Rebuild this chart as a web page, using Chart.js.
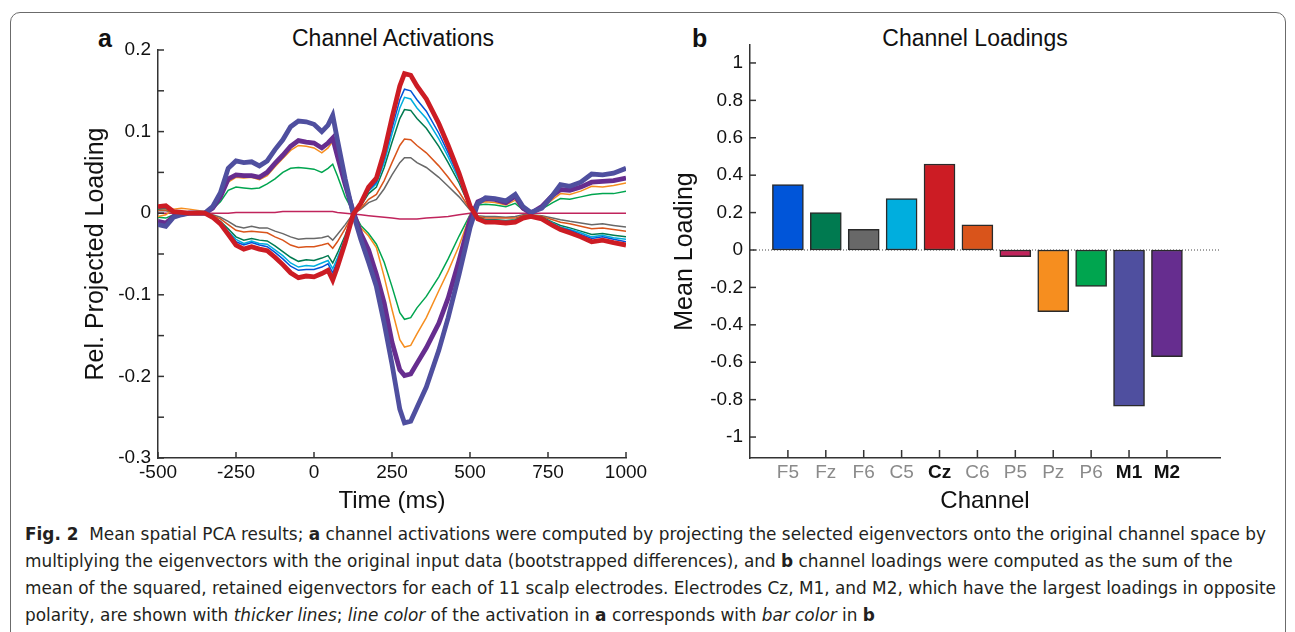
<!DOCTYPE html>
<html>
<head>
<meta charset="utf-8">
<script src="https://cdn.jsdelivr.net/npm/chart.js@4.4.1/dist/chart.umd.min.js"></script>
<style>
  html, body { margin: 0; padding: 0; background: #fff; }
  body { width: 1295px; height: 632px; position: relative; overflow: hidden; font-family: 'Liberation Sans', Arial, sans-serif; }
  #frame { position: absolute; left: 10px; top: 12px; width: 1274px; height: 700px; border: 1px solid #6b6b6b; border-radius: 10px; }
  .lbl { position: absolute; color: #111; white-space: nowrap; }
  .ttl { font-size: 23px; line-height: 28px; text-align: center; width: 400px; }
  .pan { font-size: 25px; font-weight: bold; line-height: 28px; }
  canvas { position: absolute; }
  #cap { position: absolute; left: 25px; top: 521px; font-family: 'Liberation Sans Narrow', 'DejaVu Sans Condensed', 'Liberation Sans', sans-serif; font-size: 17px; color: #231f20; }
  #cap div { white-space: nowrap; height: 27px; line-height: 27px; transform-origin: 0 50%; }
  #cap span.l { display: inline-block; }
</style>
</head>
<body>
<div id="frame"></div>

<div class="lbl pan" style="left:98px; top:24px;">a</div>
<div class="lbl ttl" style="left:193px; top:24px;">Channel Activations</div>
<div class="lbl pan" style="left:692px; top:24px;">b</div>
<div class="lbl ttl" style="left:775px; top:24px;">Channel Loadings</div>

<canvas id="actChart" width="700" height="520" style="left:0; top:0;"></canvas>
<canvas id="loadChart" width="600" height="520" style="left:640px; top:0;"></canvas>

<div id="cap">
  <div><span class="l"><b>Fig. 2</b>&nbsp; Mean spatial PCA results; <b>a</b> channel activations were computed by projecting the selected eigenvectors onto the original channel space by</span></div>
  <div><span class="l">multiplying the eigenvectors with the original input data (bootstrapped differences), and <b>b</b> channel loadings were computed as the sum of the</span></div>
  <div><span class="l">mean of the squared, retained eigenvectors for each of 11 scalp electrodes. Electrodes Cz, M1, and M2, which have the largest loadings in opposite</span></div>
  <div><span class="l">polarity, are shown with <i>thicker lines</i>; <i>line color</i> of the activation in <b>a</b> corresponds with <i>bar color</i> in <b>b</b></span></div>
</div>

<script>
// ---- data ----
const channels = ['F5', 'Fz', 'F6', 'C5', 'Cz', 'C6', 'P5', 'Pz', 'P6', 'M1', 'M2'];
const loadings = [0.35, 0.20, 0.11, 0.275, 0.46, 0.135, -0.035, -0.33, -0.195, -0.835, -0.57];
const chanColors = ['#0055d9', '#007a50', '#686868', '#00aede', '#cc1c24', '#d9541b', '#c0245c', '#f68e1f', '#00a54f', '#4f4f9f', '#662d8f'];
const boldChannels = ['Cz', 'M1', 'M2'];

// time points (ms) of the activation traces
const times = [-500, -475, -450, -425, -400, -350, -325, -300, -275, -250,
  -225, -200, -175, -150, -125, -100, -75, -50, -25, 0,
  25, 45, 60, 75, 100, 125, 150, 175, 200, 225,
  250, 275, 290, 310, 330, 360, 400, 430, 465, 500,
  525, 550, 580, 615, 645, 670, 695, 730, 765, 790,
  820, 855, 890, 925, 960, 1000];

const actCz = [0.008, 0.009, 0.002, 0.001, 0.000, 0.000, -0.005, -0.013, -0.026, -0.039,
  -0.044, -0.041, -0.044, -0.046, -0.054, -0.063, -0.073, -0.079, -0.077, -0.078,
  -0.074, -0.070, -0.082, -0.066, -0.036, -0.002, 0.012, 0.032, 0.043, 0.075,
  0.117, 0.156, 0.171, 0.169, 0.156, 0.140, 0.110, 0.083, 0.049, 0.009,
  -0.007, -0.011, -0.011, -0.012, -0.011, -0.006, -0.004, -0.007, -0.015, -0.020,
  -0.024, -0.029, -0.035, -0.033, -0.036, -0.039];
const actF5 = [0.007, 0.008, 0.002, 0.001, 0.000, 0.000, -0.004, -0.012, -0.023, -0.035,
  -0.039, -0.036, -0.039, -0.041, -0.048, -0.056, -0.065, -0.070, -0.069, -0.069,
  -0.066, -0.062, -0.073, -0.059, -0.032, -0.002, 0.011, 0.028, 0.038, 0.067,
  0.104, 0.139, 0.152, 0.150, 0.139, 0.125, 0.098, 0.074, 0.044, 0.008,
  -0.006, -0.010, -0.010, -0.011, -0.010, -0.005, -0.004, -0.006, -0.013, -0.018,
  -0.021, -0.026, -0.031, -0.029, -0.032, -0.035];
const actC5 = [0.006, 0.007, 0.002, 0.001, 0.000, 0.000, -0.004, -0.011, -0.022, -0.032,
  -0.037, -0.034, -0.037, -0.038, -0.045, -0.052, -0.061, -0.066, -0.064, -0.065,
  -0.061, -0.058, -0.068, -0.055, -0.030, -0.002, 0.010, 0.027, 0.036, 0.062,
  0.097, 0.129, 0.142, 0.140, 0.129, 0.116, 0.091, 0.069, 0.041, 0.007,
  -0.006, -0.009, -0.009, -0.010, -0.009, -0.005, -0.003, -0.006, -0.012, -0.017,
  -0.020, -0.024, -0.029, -0.027, -0.030, -0.032];
const actFz = [0.005, 0.006, 0.001, 0.001, 0.000, 0.000, -0.004, -0.010, -0.019, -0.029,
  -0.033, -0.031, -0.033, -0.034, -0.040, -0.047, -0.054, -0.059, -0.057, -0.058,
  -0.055, -0.052, -0.061, -0.049, -0.027, -0.001, 0.009, 0.024, 0.032, 0.056,
  0.087, 0.116, 0.127, 0.126, 0.116, 0.104, 0.082, 0.062, 0.037, 0.007,
  -0.005, -0.008, -0.008, -0.009, -0.008, -0.004, -0.003, -0.005, -0.011, -0.015,
  -0.018, -0.022, -0.026, -0.025, -0.027, -0.029];
const actC6 = [0.004, 0.004, 0.001, 0.000, 0.000, 0.000, -0.003, -0.007, -0.014, -0.021,
  -0.023, -0.022, -0.023, -0.024, -0.029, -0.033, -0.039, -0.042, -0.041, -0.041,
  -0.039, -0.037, -0.043, -0.035, -0.019, -0.001, 0.006, 0.017, 0.023, 0.040,
  0.062, 0.083, 0.091, 0.090, 0.083, 0.074, 0.058, 0.044, 0.026, 0.005,
  -0.004, -0.006, -0.006, -0.006, -0.006, -0.003, -0.002, -0.004, -0.008, -0.011,
  -0.013, -0.016, -0.019, -0.018, -0.020, -0.022];
const actF6 = [0.003, 0.003, 0.001, 0.000, 0.000, 0.000, -0.002, -0.005, -0.010, -0.016,
  -0.018, -0.016, -0.018, -0.018, -0.022, -0.025, -0.029, -0.032, -0.031, -0.031,
  -0.030, -0.028, -0.033, -0.026, -0.014, -0.001, 0.005, 0.013, 0.017, 0.030,
  0.047, 0.062, 0.068, 0.068, 0.062, 0.056, 0.044, 0.033, 0.020, 0.004,
  -0.003, -0.004, -0.004, -0.005, -0.004, -0.002, -0.002, -0.003, -0.006, -0.008,
  -0.010, -0.012, -0.014, -0.013, -0.015, -0.017];
const actP5 = [0.000, 0.000, 0.000, 0.000, 0.000, 0.000, 0.000, 0.000, 0.000, 0.001,
  0.001, 0.001, 0.001, 0.001, 0.001, 0.002, 0.002, 0.002, 0.002, 0.002,
  0.002, 0.002, 0.002, 0.001, 0.000, -0.001, -0.002, -0.003, -0.004, -0.005,
  -0.006, -0.007, -0.007, -0.007, -0.007, -0.006, -0.005, -0.004, -0.002, 0.000,
  0.000, 0.000, 0.000, 0.000, 0.000, 0.000, 0.000, 0.000, 0.000, 0.000,
  0.000, 0.000, 0.000, 0.000, 0.000, 0.000];
const actPz = [-0.004, -0.002, 0.005, 0.006, 0.005, 0.002, 0.005, 0.018, 0.038, 0.044,
  0.043, 0.044, 0.041, 0.046, 0.057, 0.067, 0.077, 0.083, 0.082, 0.080,
  0.074, 0.080, 0.088, 0.067, 0.033, 0.002, -0.018, -0.028, -0.042, -0.078,
  -0.118, -0.155, -0.164, -0.162, -0.148, -0.128, -0.095, -0.071, -0.040, -0.003,
  0.012, 0.014, 0.013, 0.010, 0.016, 0.004, 0.000, 0.006, 0.017, 0.024,
  0.023, 0.027, 0.033, 0.032, 0.034, 0.037];
const actP6 = [-0.005, -0.006, -0.002, 0.000, 0.000, 0.000, 0.005, 0.014, 0.028, 0.032,
  0.031, 0.030, 0.031, 0.036, 0.042, 0.050, 0.055, 0.056, 0.055, 0.054,
  0.050, 0.055, 0.060, 0.046, 0.020, 0.002, -0.015, -0.025, -0.038, -0.060,
  -0.090, -0.122, -0.130, -0.128, -0.116, -0.102, -0.078, -0.056, -0.028, -0.002,
  0.010, 0.011, 0.010, 0.008, 0.012, 0.004, 0.001, 0.005, 0.013, 0.018,
  0.017, 0.020, 0.023, 0.024, 0.024, 0.027];
const actM1 = [-0.014, -0.016, -0.005, -0.002, 0.000, 0.000, 0.008, 0.025, 0.055, 0.064,
  0.062, 0.063, 0.058, 0.064, 0.078, 0.090, 0.106, 0.113, 0.112, 0.109,
  0.100, 0.108, 0.120, 0.090, 0.042, 0.000, -0.032, -0.060, -0.090, -0.135,
  -0.185, -0.240, -0.257, -0.255, -0.238, -0.213, -0.168, -0.128, -0.075, -0.018,
  0.012, 0.019, 0.018, 0.015, 0.023, 0.008, 0.001, 0.006, 0.022, 0.035,
  0.033, 0.038, 0.048, 0.047, 0.049, 0.055];
const actM2 = [-0.010, -0.012, -0.004, -0.001, 0.000, 0.000, 0.006, 0.020, 0.042, 0.047,
  0.046, 0.046, 0.044, 0.050, 0.061, 0.071, 0.082, 0.089, 0.087, 0.086,
  0.080, 0.086, 0.092, 0.070, 0.035, 0.003, -0.025, -0.045, -0.075, -0.110,
  -0.158, -0.192, -0.199, -0.197, -0.184, -0.165, -0.135, -0.104, -0.058, -0.008,
  0.014, 0.018, 0.017, 0.013, 0.021, 0.006, 0.000, 0.008, 0.022, 0.029,
  0.028, 0.032, 0.038, 0.039, 0.040, 0.043];

const timeTicks = [-500, -250, 0, 250, 500, 750, 1000];
const actTicks = [-0.3, -0.25, -0.2, -0.15, -0.1, -0.05, 0, 0.05, 0.1, 0.15, 0.2];
const loadTicks = [-1, -0.8, -0.6, -0.4, -0.2, 0, 0.2, 0.4, 0.6, 0.8, 1];

// ---- helpers ----
Chart.defaults.font.family = "'Liberation Sans', Arial, sans-serif";
Chart.defaults.color = '#111';

function numLabel(v) {
    return String(Math.round(v * 10) / 10);
}

function isBold(c) {
    if (!c || !c.tick) return false;
    return boldChannels.includes(channels[Math.round(c.tick.value) - 1]);
}

// tick marks drawn inside the plot, like the original figure
const inwardTicks = {
    id: 'inwardTicks',
    afterDatasetsDraw(chart, args, opts) {
        const {ctx, chartArea, scales} = chart;
        ctx.save();
        ctx.strokeStyle = '#333';
        ctx.lineWidth = 1.5;
        scales.x.ticks.forEach(t => {
            const px = scales.x.getPixelForValue(t.value);
            ctx.beginPath();
            ctx.moveTo(px, chartArea.bottom);
            ctx.lineTo(px, chartArea.bottom - opts.xLen);
            ctx.stroke();
        });
        scales.y.ticks.forEach(t => {
            const py = scales.y.getPixelForValue(t.value);
            ctx.beginPath();
            ctx.moveTo(chartArea.left, py);
            ctx.lineTo(chartArea.left + opts.yLen, py);
            ctx.stroke();
        });
        ctx.restore();
    }
};

const zeroLine = {
    id: 'zeroLine',
    beforeDatasetsDraw(chart) {
        const {ctx, chartArea, scales} = chart;
        const y0 = scales.y.getPixelForValue(0);
        ctx.save();
        ctx.strokeStyle = '#444';
        ctx.lineWidth = 1;
        ctx.setLineDash([1, 2]);
        ctx.beginPath();
        ctx.moveTo(chartArea.left, y0);
        ctx.lineTo(chartArea.right, y0);
        ctx.stroke();
        ctx.restore();
    }
};

// ---- a: channel activations ----
function traceOf(name, values, thick) {
    const i = channels.indexOf(name);
    return {
        label: name,
        data: times.map((t, k) => ({x: t, y: values[k]})),
        borderColor: chanColors[i],
        borderWidth: thick ? 4.8 : 1.5,
        pointRadius: 0,
        tension: 0,
        fill: false
    };
}

new Chart(document.getElementById('actChart'), {
    type: 'line',
    data: {
        datasets: [
            traceOf('Cz', actCz, true),
            traceOf('M1', actM1, true),
            traceOf('M2', actM2, true),
            traceOf('F5', actF5, false),
            traceOf('C5', actC5, false),
            traceOf('Fz', actFz, false),
            traceOf('C6', actC6, false),
            traceOf('F6', actF6, false),
            traceOf('Pz', actPz, false),
            traceOf('P6', actP6, false),
            traceOf('P5', actP5, false)
        ]
    },
    options: {
        responsive: false,
        animation: false,
        layout: { padding: { left: 77, top: 50, right: 74, bottom: 0 } },
        plugins: {
            legend: { display: false },
            tooltip: { enabled: false },
            inwardTicks: { xLen: 6, yLen: 6 }
        },
        scales: {
            x: {
                type: 'linear',
                min: -500,
                max: 1000,
                afterBuildTicks: s => { s.ticks = timeTicks.map(v => ({value: v})); },
                afterFit: s => { s.height = 62; },
                grid: { display: false, drawTicks: false },
                border: { display: true, color: '#333', width: 1.5 },
                ticks: { font: { size: 19 }, padding: 3, maxRotation: 0, autoSkip: false, color: '#111', callback: v => String(v) },
                title: { display: true, text: 'Time (ms)', font: { size: 24 }, color: '#111', padding: { top: 4, bottom: 4 } }
            },
            y: {
                min: -0.3,
                max: 0.2,
                afterBuildTicks: s => { s.ticks = actTicks.map(v => ({value: v})); },
                afterFit: s => { s.width = 81; },
                grid: { display: false, drawTicks: false },
                border: { display: true, color: '#333', width: 1.5 },
                ticks: {
                    font: { size: 19 },
                    padding: 7,
                    color: '#111',
                    callback: v => (Math.round(v * 100) % 10 === 0 ? numLabel(v) : '')
                },
                title: { display: true, text: 'Rel. Projected Loading', font: { size: 25 }, color: '#111', padding: { top: 4, bottom: 4 } }
            }
        }
    },
    plugins: [inwardTicks]
});

// ---- b: channel loadings ----
new Chart(document.getElementById('loadChart'), {
    type: 'bar',
    data: {
        datasets: [{
            label: 'Mean Loading',
            data: loadings.map((v, i) => ({x: i + 1, y: v})),
            backgroundColor: chanColors,
            borderColor: '#2a2a2a',
            borderWidth: 1.5,
            borderSkipped: false,
            barThickness: 31
        }]
    },
    options: {
        responsive: false,
        animation: false,
        layout: { padding: { left: 26, top: 45, right: 20, bottom: 0 } },
        plugins: {
            legend: { display: false },
            tooltip: { enabled: false },
            inwardTicks: { xLen: 8, yLen: 6 }
        },
        scales: {
            x: {
                type: 'linear',
                min: 0,
                max: 12.4,
                offset: false,
                afterBuildTicks: s => { s.ticks = channels.map((c, i) => ({value: i + 1})); },
                afterFit: s => { s.height = 62; },
                grid: { display: false, drawTicks: false },
                border: { display: true, color: '#333', width: 1.5 },
                ticks: {
                    padding: 3,
                    maxRotation: 0,
                    autoSkip: false,
                    callback: v => channels[Math.round(v) - 1] || '',
                    color: c => (isBold(c) ? '#111' : '#8a8a8a'),
                    font: c => ({ size: 19, weight: isBold(c) ? 'bold' : 'normal' })
                },
                title: { display: true, text: 'Channel', font: { size: 24 }, color: '#111', padding: { top: 4, bottom: 4 } }
            },
            y: {
                min: -1.112,
                max: 1.096,
                afterBuildTicks: s => { s.ticks = loadTicks.map(v => ({value: v})); },
                afterFit: s => { s.width = 84; },
                grid: { display: false, drawTicks: false },
                border: { display: true, color: '#333', width: 1.5 },
                ticks: { font: { size: 19 }, padding: 7, color: '#111', callback: v => numLabel(v) },
                title: { display: true, text: 'Mean Loading', font: { size: 25 }, color: '#111', padding: { top: 4, bottom: 4 } }
            }
        }
    },
    plugins: [zeroLine, inwardTicks]
});

// ---- caption: squeeze lines to the original column width ----
const capLines = document.querySelectorAll('#cap div');
const firstW = capLines[0].querySelector('span').getBoundingClientRect().width;
const squeeze = 1241 / firstW;
capLines.forEach(d => { d.style.transform = 'scaleX(' + squeeze + ')'; });
</script>
</body>
</html>
